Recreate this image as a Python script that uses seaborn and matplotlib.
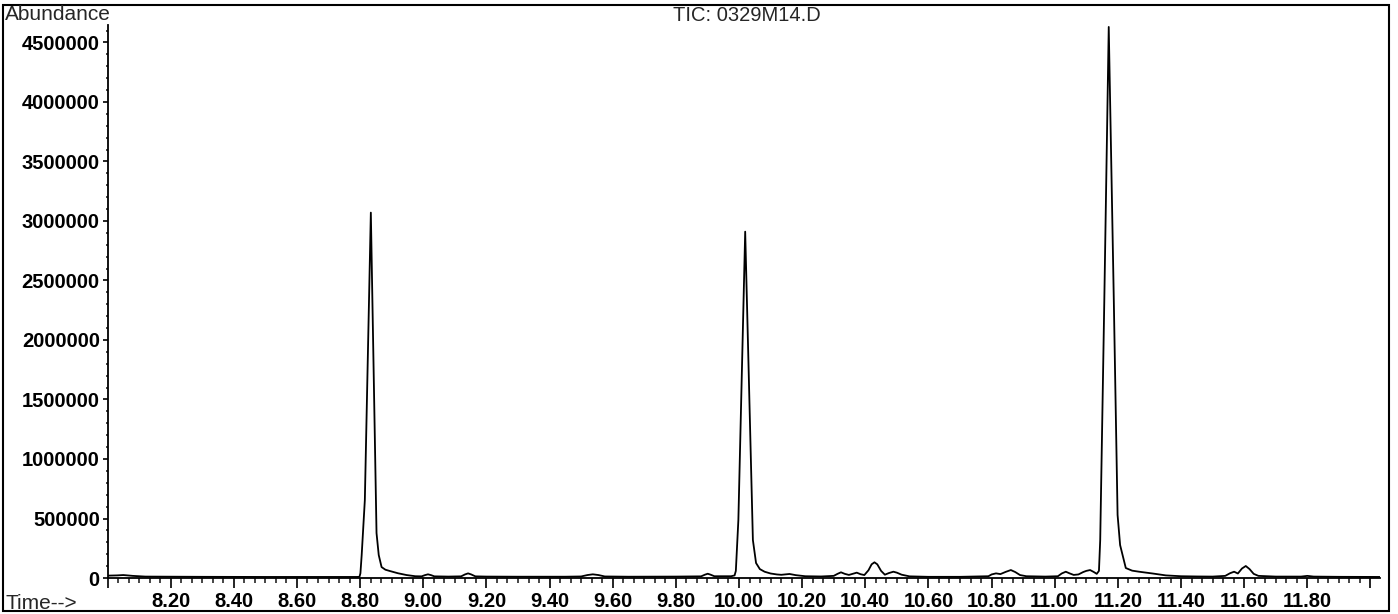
import numpy as np
import pandas as pd
import seaborn as sns
import matplotlib.pyplot as plt
from matplotlib.patches import Rectangle
from matplotlib.ticker import MultipleLocator, FixedLocator, FuncFormatter

# Chromatogram trace (retention time in min, abundance)
retention_time = [
    8.00, 8.03, 8.05, 8.08, 8.12, 8.30, 8.50, 8.70, 8.79,
    8.798, 8.801, 8.805, 8.815, 8.834, 8.852, 8.859, 8.868, 8.880, 8.894, 8.92,
    8.947, 8.975,
    8.995, 9.005, 9.015, 9.025, 9.035, 9.08, 9.12, 9.132, 9.142, 9.152, 9.165,
    9.20, 9.30, 9.45, 9.50, 9.52, 9.537, 9.555, 9.575, 9.65, 9.80,
    9.88, 9.892, 9.901, 9.91, 9.922, 9.975,
    9.986, 9.990, 9.998, 10.0196, 10.044, 10.054, 10.066, 10.081, 10.10, 10.12,
    10.134, 10.16, 10.18, 10.21, 10.26,
    10.30, 10.312, 10.323, 10.335, 10.348, 10.36, 10.373, 10.385, 10.397, 10.41,
    10.42, 10.429, 10.438, 10.45, 10.462, 10.475, 10.489, 10.50, 10.515, 10.54,
    10.60, 10.70, 10.79, 10.80, 10.814, 10.828, 10.845, 10.861, 10.875, 10.89,
    10.91, 10.97, 11.01, 11.022, 11.035, 11.048, 11.06, 11.075, 11.09, 11.10,
    11.112, 11.124, 11.133,
    11.140, 11.144, 11.157, 11.171, 11.187, 11.199, 11.207, 11.225, 11.245, 11.267,
    11.31, 11.352, 11.40, 11.45, 11.50,
    11.54, 11.555, 11.568, 11.58, 11.593, 11.605, 11.617, 11.63, 11.645, 11.70,
    11.78, 11.80, 11.82, 11.90, 12.03,
]
abundance = [
    20000, 22000, 25000, 18000, 12000, 10000, 9000, 9000, 9000,
    10000, 40000, 193000, 655000, 3070000, 378000, 193000, 92000, 70000, 59000, 40000,
    25000, 15000,
    14000, 24000, 31000, 24000, 14000, 12000, 14000, 30000, 39000, 30000, 14000,
    12000, 11000, 11000, 13000, 25000, 31000, 25000, 13000, 11000, 12000,
    14000, 28000, 36000, 28000, 15000, 15000,
    22000, 60000, 487000, 2910000, 319000, 126000, 75000, 53000, 38000, 30000,
    27000, 34000, 24000, 15000, 13000,
    18000, 35000, 48000, 35000, 26000, 35000, 45000, 32000, 25000, 65000,
    115000, 132000, 115000, 60000, 28000, 42000, 53000, 45000, 28000, 14000,
    10000, 10000, 15000, 30000, 39000, 33000, 52000, 67000, 50000, 25000,
    15000, 12000, 15000, 38000, 53000, 38000, 26000, 30000, 50000, 60000,
    67000, 50000, 35000,
    60000, 320000, 2340000, 4630000, 2340000, 530000, 277000, 84000, 62000, 53000,
    38000, 22000, 15000, 13000, 12000,
    18000, 40000, 53000, 38000, 80000, 101000, 75000, 35000, 18000, 12000,
    12000, 18000, 12000, 10000, 9000,
]

x_major = np.round(np.arange(8.0, 12.01, 0.2), 2)
x_labels = ["" if v in (8.0, 12.0) else f"{v:.2f}" for v in x_major]
y_major = list(range(0, 4500001, 500000))

df = pd.DataFrame({"Time": retention_time, "Abundance": abundance})

sns.set_style("ticks")
plt.rcParams['font.family'] = ['Liberation Sans', 'DejaVu Sans']

fig = plt.figure(figsize=(13.98, 6.14), dpi=100)
ax = fig.add_axes([0.0769, 0.0586, 0.9102, 0.9014])

sns.lineplot(x="Time", y="Abundance", data=df, ax=ax, color="black",
             linewidth=1.3, estimator=None)

ax.set_xlim(8.0, 12.03)
ax.set_ylim(0, 4650000)
ax.set_xlabel("")
ax.set_ylabel("")

ax.xaxis.set_major_locator(FixedLocator(x_major))
ax.set_xticklabels(x_labels)
ax.xaxis.set_minor_locator(MultipleLocator(0.2 / 6))
ax.yaxis.set_major_locator(FixedLocator(y_major))
ax.yaxis.set_minor_locator(MultipleLocator(100000))
ax.yaxis.set_major_formatter(FuncFormatter(lambda v, p: f"{int(v)}"))

ax.tick_params(axis="x", which="major", length=7, width=1.2, pad=3,
               labelsize=14.5, direction="out", colors="black")
ax.tick_params(axis="x", which="minor", length=3.5, width=1.2, direction="out")
ax.tick_params(axis="y", which="major", length=3.5, width=1.2, pad=2,
               labelsize=14.5, direction="out", colors="black")
ax.tick_params(axis="y", which="minor", length=1.5, width=1.2, direction="out")
for lab in ax.get_xticklabels() + ax.get_yticklabels():
    lab.set_fontweight("bold")

for side in ["top", "right"]:
    ax.spines[side].set_visible(False)
for side in ["left", "bottom"]:
    ax.spines[side].set_linewidth(1.3)
    ax.spines[side].set_color("black")

# Page frame and instrument labels
fig.patches.append(Rectangle((0.0021, 0.0049), 0.9915, 0.987, transform=fig.transFigure,
                             fill=False, edgecolor="black", linewidth=1.5))
fig.text(0.0036, 0.9756, "Abundance", fontsize=15, ha="left", va="center")
fig.text(0.0036, 0.0179, "Time-->", fontsize=15, ha="left", va="center")
fig.text(0.5343, 0.9748, "TIC: 0329M14.D", fontsize=14.5, ha="center", va="center")

fig.savefig("out.png", dpi=100)
